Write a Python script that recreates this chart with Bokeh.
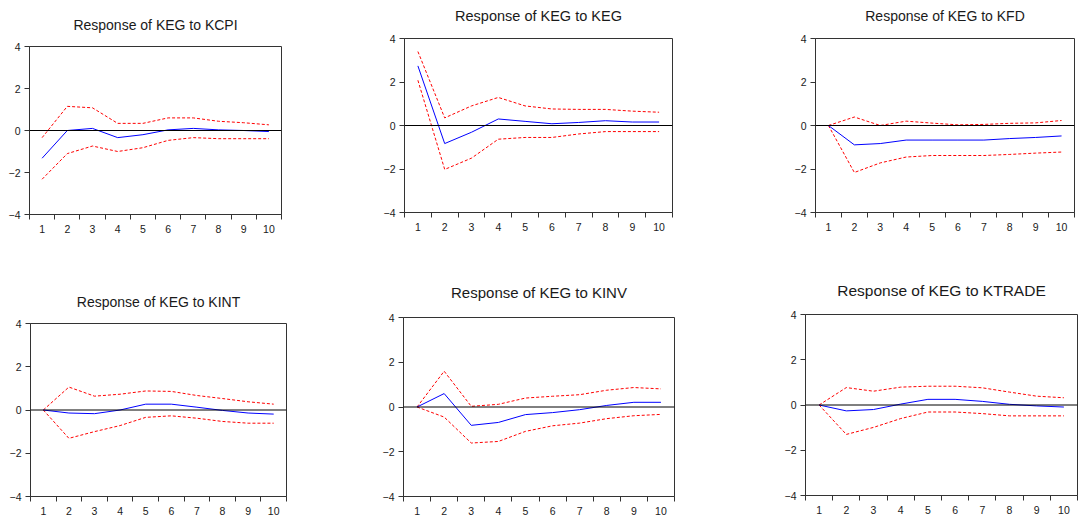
from bokeh.plotting import figure
from bokeh.models import FixedTicker, Span, Range1d
from bokeh.layouts import row, column
from bokeh.embed import file_html
from bokeh.resources import INLINE

# Impulse-response horizons
periods = [1, 2, 3, 4, 5, 6, 7, 8, 9, 10]
y_ticks = [-4, -2, 0, 2, 4]

# Response of KEG to KCPI
kcpi_resp = [-1.32, 0.0, 0.1, -0.34, -0.2, 0.03, 0.1, 0.03, 0.0, -0.05]
kcpi_upper = [-0.34, 1.15, 1.08, 0.34, 0.34, 0.6, 0.6, 0.44, 0.37, 0.27]
kcpi_lower = [-2.32, -1.1, -0.74, -1.0, -0.82, -0.47, -0.34, -0.39, -0.39, -0.39]

# Response of KEG to KEG
keg_resp = [2.74, -0.83, -0.31, 0.3, 0.19, 0.08, 0.14, 0.22, 0.16, 0.16]
keg_upper = [3.4, 0.35, 0.9, 1.29, 0.9, 0.76, 0.74, 0.74, 0.66, 0.61]
keg_lower = [2.08, -2.02, -1.5, -0.63, -0.55, -0.55, -0.39, -0.28, -0.28, -0.28]

# Response of KEG to KFD
kfd_resp = [0.0, -0.89, -0.83, -0.67, -0.67, -0.67, -0.67, -0.6, -0.55, -0.48]
kfd_upper = [0.0, 0.39, 0.0, 0.2, 0.11, 0.03, 0.05, 0.1, 0.12, 0.23]
kfd_lower = [0.0, -2.16, -1.72, -1.45, -1.38, -1.38, -1.38, -1.33, -1.27, -1.22]

# Response of KEG to KINT
kint_resp = [0.0, -0.14, -0.17, 0.0, 0.27, 0.27, 0.13, -0.02, -0.14, -0.19]
kint_upper = [0.0, 1.06, 0.64, 0.73, 0.88, 0.86, 0.67, 0.53, 0.38, 0.27]
kint_lower = [0.0, -1.31, -1.0, -0.72, -0.34, -0.27, -0.38, -0.53, -0.61, -0.61]

# Response of KEG to KINV
kinv_resp = [0.0, 0.6, -0.82, -0.69, -0.34, -0.25, -0.12, 0.07, 0.21, 0.21]
kinv_upper = [0.0, 1.6, 0.03, 0.12, 0.4, 0.48, 0.55, 0.75, 0.87, 0.81]
kinv_lower = [0.0, -0.45, -1.61, -1.54, -1.09, -0.84, -0.72, -0.52, -0.39, -0.33]

# Response of KEG to KTRADE
ktrade_resp = [0.0, -0.26, -0.2, 0.04, 0.25, 0.25, 0.16, 0.03, -0.04, -0.09]
ktrade_upper = [0.0, 0.77, 0.61, 0.79, 0.83, 0.83, 0.76, 0.57, 0.39, 0.32]
ktrade_lower = [0.0, -1.3, -0.99, -0.6, -0.31, -0.31, -0.38, -0.48, -0.48, -0.48]

FONT = "Liberation Sans"
AXIS_COLOR = "#333333"


def make_panel(title, resp, upper, lower, width, height, bl, br, bt, bb,
               tsize, tstand, shift=0):
    p = figure(width=width, height=height, output_backend="svg",
               toolbar_location=None, tools="",
               x_range=Range1d(0.5, 10.5), y_range=Range1d(-4, 4),
               min_border_left=bl, min_border_right=br,
               min_border_top=bt, min_border_bottom=bb,
               background_fill_color="white", border_fill_color="white")
    p.title.text = title
    p.title.align = "center"
    p.title.text_font = FONT
    p.title.text_font_style = "normal"
    p.title.text_font_size = tsize
    p.title.text_color = "#1a1a1a"
    p.title.standoff = tstand
    p.outline_line_color = AXIS_COLOR
    p.outline_line_width = 1
    p.outline_line_alpha = 1
    p.xgrid.visible = False
    p.ygrid.visible = False

    bounds = [i + 0.5 for i in range(0, 11)]
    xa = p.xaxis[0]
    xa.ticker = FixedTicker(ticks=periods, minor_ticks=bounds)
    xa.major_tick_line_color = None
    xa.major_tick_out = 5
    xa.major_tick_in = 0
    xa.minor_tick_out = 5
    xa.minor_tick_in = 0
    xa.minor_tick_line_color = AXIS_COLOR
    xa.axis_line_color = AXIS_COLOR
    xa.major_label_text_font = FONT
    xa.major_label_text_font_size = "10.5px"
    xa.major_label_text_color = "#1a1a1a"
    xa.major_label_standoff = 5

    ya = p.yaxis[0]
    ya.ticker = FixedTicker(ticks=y_ticks, minor_ticks=[])
    ya.major_tick_out = 5
    ya.major_tick_in = 0
    ya.major_tick_line_color = AXIS_COLOR
    ya.axis_line_color = AXIS_COLOR
    ya.major_label_text_font = FONT
    ya.major_label_text_font_size = "10.5px"
    ya.major_label_text_color = "#1a1a1a"
    ya.major_label_standoff = 4
    ya.major_label_orientation = "horizontal"

    p.add_layout(Span(location=0, dimension="width", line_color="black", line_width=1))
    p.line(periods, upper, line_color="red", line_width=1, line_dash="3 2")
    p.line(periods, lower, line_color="red", line_width=1, line_dash="3 2")
    p.line(periods, resp, line_color="blue", line_width=1)
    if shift:
        p.margin = (-shift, 0, 0, 0)
    return column(p)


f1 = make_panel("Response of KEG to KCPI", kcpi_resp, kcpi_upper, kcpi_lower,
                360, 258, 29, 79, 46, 44, "14px", 28)
f2 = make_panel("Response of KEG to KEG", keg_resp, keg_upper, keg_lower,
                390, 269, 44, 78, 49, 46, "14.5px", 30, shift=11)
f3 = make_panel("Response of KEG to KFD", kfd_resp, kfd_upper, kfd_lower,
                330, 268, 65, 6, 48, 46, "14px", 30, shift=10)
f4 = make_panel("Response of KEG to KINT", kint_resp, kint_upper, kint_lower,
                360, 260, 30, 74, 65, 22, "14px", 28)
f5 = make_panel("Response of KEG to KINV", kinv_resp, kinv_upper, kinv_lower,
                390, 260, 43, 76, 59, 22, "15px", 34)
f6 = make_panel("Response of KEG to KTRADE", ktrade_resp, ktrade_upper, ktrade_lower,
                330, 260, 55, 3, 56, 23, "15.5px", 32)

layout = column(row(f1, f2, f3), row(f4, f5, f6))

open("out.html", "w").write(file_html(layout, INLINE))
